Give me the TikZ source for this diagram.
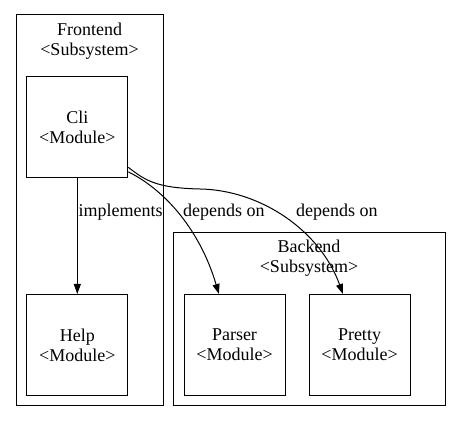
\documentclass[tikz,border=0pt]{standalone}
\usepackage{fontspec}
\setmainfont{Liberation Serif}
\usepackage{tikz}
\usetikzlibrary{arrows.meta}

\begin{document}
\begin{tikzpicture}[x=1pt, y=1pt,
    every node/.style={font=\fontsize{18}{20}\selectfont},
    module/.style={draw, line width=1pt, minimum width=101pt, minimum height=101pt, align=center, inner sep=0pt},
    cluster/.style={draw, line width=1pt},
    dep/.style={line width=1pt, -{Triangle[length=10pt, width=7pt]}}]
            \fill [white] (0,0) rectangle (461,423);
            \useasboundingbox (0,0) rectangle (461,423);
            \draw [cluster] (16,17) rectangle (163,408);
            \draw [cluster] (173,17) rectangle (445,190);
            \node [align=center] (frontend) at (89.5,382) {Frontend\\<Subsystem>};
            \node [align=center] (backend) at (309,164.7) {Backend\\<Subsystem>};
            \node [module] (cli) at (77.3,295.5) {Cli\\<Module>};
            \foreach \name/\x/\txt in {help/77.3/Help, parser/234.5/Parser, pretty/359.5/Pretty}
                \node [module] (\name) at (\x,78) {\txt\\<Module>};
            \draw [dep] (cli) -- (help);
            \draw [dep] (cli.-41) .. controls (165,233) and (200,193) .. (parser.107);
            \draw [dep] (cli.-38) .. controls (145,243) and (155,235) .. (200,234)
                .. controls (260,233) and (320,193) .. (pretty.108);
            \node [anchor=west, inner sep=1pt] (implements) at (77.3,211) {implements};
            \node [anchor=west, inner sep=1pt] (dependsParser) at (182,211) {depends on};
            \node [anchor=west, inner sep=1pt] (dependsPretty) at (295,211) {depends on};
        \end{tikzpicture}
\end{document}
